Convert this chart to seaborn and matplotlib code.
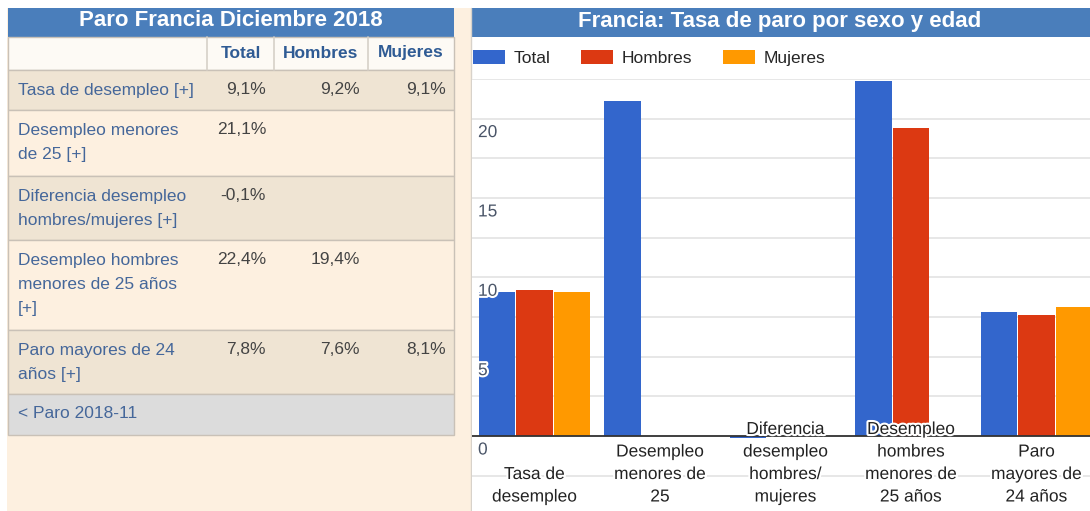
import numpy as np
import pandas as pd
import matplotlib
matplotlib.use("Agg")
import matplotlib.pyplot as plt
import matplotlib.patheffects as pe
from matplotlib.patches import Rectangle
from matplotlib.transforms import blended_transform_factory
import seaborn as sns

# Data
categories = [
    "Tasa de\ndesempleo",
    "Desempleo\nmenores de\n25",
    "Diferencia\ndesempleo\nhombres/\nmujeres",
    "Desempleo\nhombres\nmenores de\n25 años",
    "Paro\nmayores de\n24 años",
]
table_labels = [
    "Tasa de desempleo [+]",
    "Desempleo menores\nde 25 [+]",
    "Diferencia desempleo\nhombres/mujeres [+]",
    "Desempleo hombres\nmenores de 25 años\n[+]",
    "Paro mayores de 24\naños [+]",
]
series = ["Total", "Hombres", "Mujeres"]
total = [9.1, 21.1, -0.1, 22.4, 7.8]
hombres = [9.2, np.nan, np.nan, 19.4, 7.6]
mujeres = [9.1, np.nan, np.nan, np.nan, 8.1]
yticks_shown = [0, 5, 10, 15, 20]

colors = {"Total": "#3366cc", "Hombres": "#dc3912", "Mujeres": "#ff9900"}
title_blue = "#4a7ebb"
cream = "#fdf0e0"
beige = "#efe4d3"
link_blue = "#45679a"
font = 12.5

sns.set_style("white")
plt.rcParams["font.family"] = ["Liberation Sans", "DejaVu Sans"]

W, H = 1090, 511
fig = plt.figure(figsize=(W / 100, H / 100), dpi=100, facecolor="white")

# ---- left side: table drawn in pixel coordinates ----
bg = fig.add_axes([0, 0, 1, 1], zorder=0)
bg.set_xlim(0, W)
bg.set_ylim(H, 0)
bg.axis("off")

bg.add_patch(Rectangle((7, 8), 464, H - 8, color=cream, lw=0))
bg.plot([471, 471], [8, H], color="#d8d2ca", lw=1)
bg.add_patch(Rectangle((8, 8), 446, 29, color=title_blue, lw=0))
bg.text(231, 21, "Paro Francia Diciembre 2018", color="white", fontsize=16,
        fontweight="bold", ha="center", va="center")
bg.add_patch(Rectangle((471, 8), 619, 29, color=title_blue, lw=0))
bg.text(780, 21, "Francia: Tasa de paro por sexo y edad", color="white",
        fontsize=16, fontweight="bold", ha="center", va="center")

col_edges = [8, 207, 274, 368, 454]
row_edges = [37, 70, 110, 176, 240, 330, 394, 435]
row_fill = ["#fdfaf5", beige, cream, beige, cream, beige, "#dcdcdc"]
for k in range(len(row_edges) - 1):
    bg.add_patch(Rectangle((col_edges[0], row_edges[k]), col_edges[-1] - col_edges[0],
                           row_edges[k + 1] - row_edges[k], facecolor=row_fill[k],
                           edgecolor="#c9c1b7", lw=1))
for x in col_edges[1:-1]:
    bg.plot([x, x], [row_edges[0], row_edges[1]], color="#d6d0c8", lw=1.2)

header_x = [241, 321, 411]
for name, x in zip(series, header_x):
    bg.text(x, 53, name, color="#2f5b94", fontsize=font, fontweight="bold",
            ha="center", va="center")

value_right = [266, 360, 446]
for k, lab in enumerate(table_labels):
    top = row_edges[k + 1]
    for j, line in enumerate(lab.split("\n")):
        bg.text(18, top + 20 + j * 24.5, line, color=link_blue, fontsize=font,
                ha="left", va="center")
    for vals, xr in zip([total, hombres, mujeres], value_right):
        v = vals[k]
        if not np.isnan(v):
            bg.text(xr, top + 20, f"{v:.1f}".replace(".", ",") + "%", color="#444444",
                    fontsize=font, ha="right", va="center")
bg.text(18, 413, "< Paro 2018-11", color=link_blue, fontsize=font, ha="left", va="center")

# ---- right side: bar chart ----
px_unit = 15.87
zero_px = 436
ymax = 22.5
ymin = -(H - zero_px) / px_unit
top_px = zero_px - ymax * px_unit
ax = fig.add_axes([472 / W, 0, 618 / W, (H - top_px) / H], zorder=1)
ax.set_facecolor("white")

df = pd.DataFrame({
    "Categoria": categories * 3,
    "Serie": np.repeat(series, len(categories)),
    "Valor": total + hombres + mujeres,
}).dropna()

sns.barplot(data=df, x="Categoria", y="Valor", hue="Serie", order=categories,
            hue_order=series, palette=colors, saturation=1, width=0.9, gap=0.03,
            errorbar=None, linewidth=0, ax=ax, zorder=2)

ax.set_xlim(-0.498, 4.426)
ax.set_ylim(ymin, ymax)
ax.set_yticks(np.arange(-2.5, 22.6, 2.5))
ax.yaxis.grid(True, color="#e3e3e3", lw=1.2, zorder=0)
ax.set_axisbelow(True)
ax.tick_params(left=False, bottom=False, labelleft=False, labelbottom=False)
ax.set_xlabel("")
ax.set_ylabel("")
for s in ax.spines.values():
    s.set_visible(False)
ax.axhline(0, color="#333333", lw=1.3, zorder=3)

halo = [pe.withStroke(linewidth=3, foreground="white")]
trans = blended_transform_factory(ax.transAxes, ax.transData)
for v in yticks_shown:
    ax.text(6 / 618, v - 14 / px_unit, str(v), transform=trans, color="#4a5568",
            fontsize=font, ha="left", va="center", path_effects=halo, zorder=4)

for i, lab in enumerate(categories):
    lines = lab.split("\n")
    n = len(lines)
    for j, line in enumerate(lines):
        y_px = 497 - (n - 1 - j) * 22.5
        ax.text(i, (zero_px - y_px) / px_unit, line, color="#222222", fontsize=font,
                ha="center", va="center", path_effects=halo, zorder=4)

sns.move_legend(ax, "center left", bbox_to_anchor=(473 / W, 1 - 58 / H),
                bbox_transform=fig.transFigure, ncol=3, frameon=False, title=None,
                fontsize=font, handlelength=1.85, handleheight=0.9,
                handletextpad=0.5, columnspacing=1.75, borderaxespad=0, borderpad=0)

fig.savefig("out.png", dpi=100, facecolor=fig.get_facecolor())
